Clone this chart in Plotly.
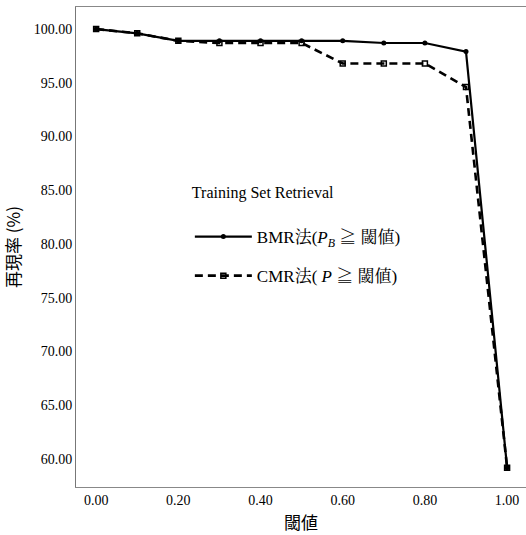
import plotly.graph_objects as go

thresholds = [0.0, 0.1, 0.2, 0.3, 0.4, 0.5, 0.6, 0.7, 0.8, 0.9, 1.0]
bmr_recall = [100.0, 99.6, 98.9, 98.9, 98.9, 98.9, 98.9, 98.7, 98.7, 97.9, 59.2]
cmr_recall = [100.0, 99.6, 98.9, 98.7, 98.7, 98.7, 96.8, 96.8, 96.8, 94.6, 59.2]
bmr_name = "BMR法(<i>P<sub>B</sub></i> ≧ 閾値)"
cmr_name = "CMR法( <i>P</i> ≧ 閾値)"
legend_title = "Training Set Retrieval"
x_ticks = [0.0, 0.2, 0.4, 0.6, 0.8, 1.0]
y_ticks = [60, 65, 70, 75, 80, 85, 90, 95, 100]

FONT = "Liberation Serif, Times New Roman, Noto Serif CJK JP, Noto Sans CJK JP, serif"
CJK = "Noto Sans CJK JP, Liberation Serif, serif"

fig = go.Figure()
fig.add_trace(go.Scatter(
    x=thresholds, y=bmr_recall, name=bmr_name, mode="lines+markers",
    line=dict(color="black", width=2.2),
    marker=dict(symbol="circle", size=5, color="black"),
    legendgroup="a",
))
fig.add_trace(go.Scatter(
    x=thresholds, y=cmr_recall, name=cmr_name, mode="lines+markers",
    line=dict(color="black", width=2.6, dash="8px,5px"),
    marker=dict(symbol="square-open", size=5, color="black", line=dict(width=1.5)),
    legendgroup="b",
))

fig.update_layout(
    width=526, height=535,
    margin=dict(l=76, r=0, t=7, b=48),
    plot_bgcolor="white", paper_bgcolor="white",
    font=dict(family=FONT, color="black", size=14),
    showlegend=True,
    legend=dict(
        x=0.253, y=0.645, xanchor="left", yanchor="top",
        bgcolor="rgba(0,0,0,0)",
        title=dict(text=legend_title + "<br> ", font=dict(size=16, family=FONT)),
        font=dict(size=17, family=FONT),
        tracegroupgap=14,
        itemwidth=57,
    ),
    xaxis=dict(
        range=[-0.049, 1.046], tickvals=x_ticks,
        ticktext=[f"{v:.2f}" for v in x_ticks],
        showgrid=False, zeroline=False,
        showline=True, linecolor="#888888", linewidth=1, mirror=True,
        ticks="", tickfont=dict(size=14),
        title=dict(text="閾値", font=dict(size=17, family=CJK), standoff=10),
    ),
    yaxis=dict(
        range=[57.4, 102.05], tickvals=y_ticks,
        ticktext=[f"{v:.2f}" for v in y_ticks],
        showgrid=False, zeroline=False,
        showline=True, linecolor="#777777", linewidth=1, mirror=True,
        ticks="", tickfont=dict(size=14),
        title=dict(text="再現率 (%)", font=dict(size=17, family=CJK), standoff=10),
    ),
)

fig.write_html("out.html")
